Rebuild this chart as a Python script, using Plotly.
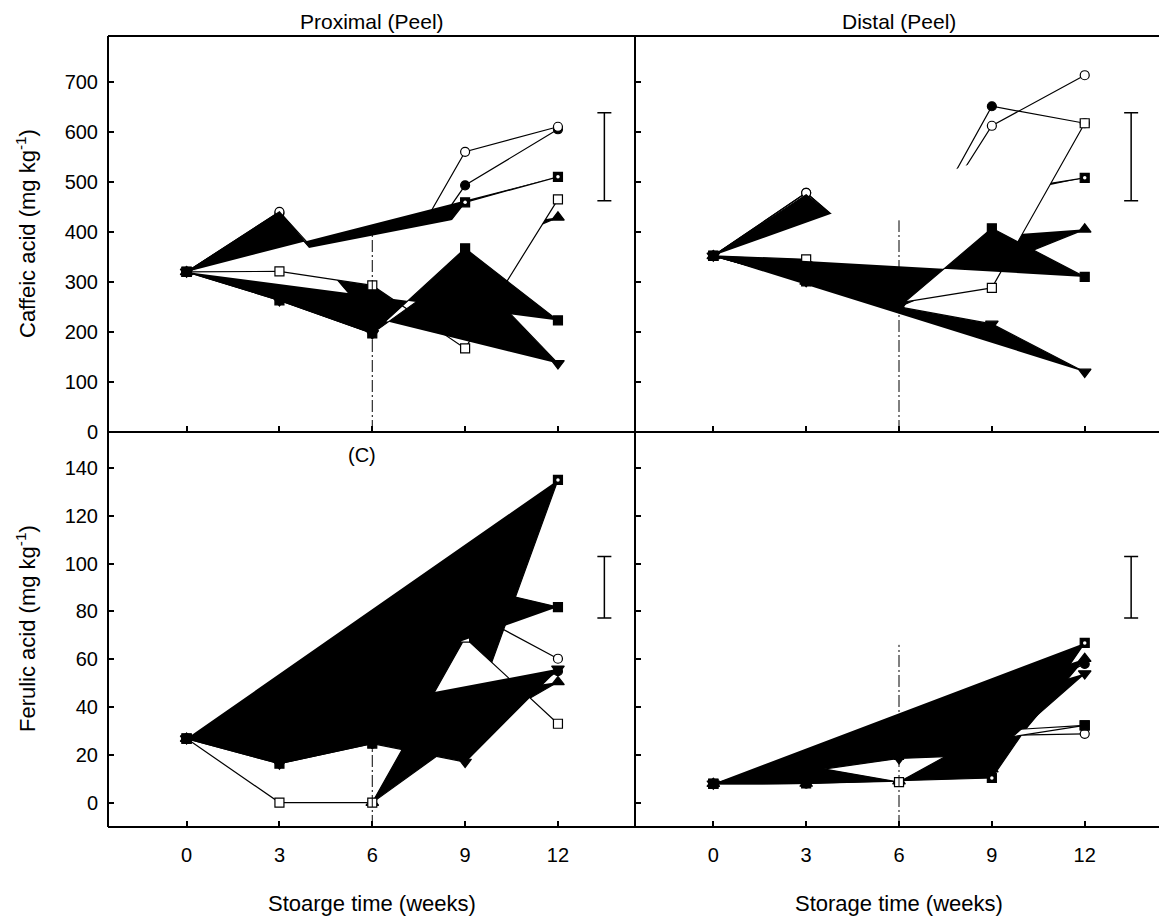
import plotly.graph_objects as go

# ---------------- data ----------------
WEEKS = [0, 3, 6, 9, 12]

# Caffeic acid, proximal peel (mg kg-1)
PC_FILLED_CIRCLE = [320, 437, 226, 493, 605]
PC_OPEN_CIRCLE = [320, 440, 236, 560, 610]
PC_UP_TRIANGLE = [320, 330, 300, 350, 429]
PC_DOT_SQUARE = [320, 440, 222, 459, 510]
PC_OPEN_SQUARE = [320, 321, 293, 167, 465]
PC_FILLED_SQUARE = [320, 263, 197, 367, 223]
PC_DOWN_TRIANGLE = [320, 263, 197, 330, 137]

# Caffeic acid, distal peel (mg kg-1)
DC_FILLED_CIRCLE = [352, 478, 316, 651, 617]
DC_OPEN_CIRCLE = [352, 478, 320, 612, 713]
DC_UP_TRIANGLE = [352, 301, 250, 330, 405]
DC_DOT_SQUARE = [352, 474, 326, 478, 508]
DC_OPEN_SQUARE = [352, 345, 258, 288, 617]
DC_FILLED_SQUARE = [352, 301, 250, 407, 310]
DC_DOWN_TRIANGLE = [352, 301, 250, 216, 120]

# Ferulic acid, proximal peel (mg kg-1)
PF_FILLED_CIRCLE = [26.8, 16.3, 24.7, 30, 55]
PF_OPEN_CIRCLE = [26.8, 16.3, 24.7, 81, 60.2]
PF_UP_TRIANGLE = [26.8, 16.3, 0, 28, 50.5]
PF_DOT_SQUARE = [26.8, 16.3, 24.7, 28, 135]
PF_OPEN_SQUARE = [26.8, 0, 0, 69, 33]
PF_FILLED_SQUARE = [26.8, 16.3, 24.7, 91, 81.8]
PF_DOWN_TRIANGLE = [26.8, 16.3, 24.7, 17, 56]

# Ferulic acid, distal peel (mg kg-1)
DF_FILLED_CIRCLE = [7.9, 8, 17.7, 40, 58]
DF_OPEN_CIRCLE = [7.9, 8, 17.7, 28, 28.8]
DF_UP_TRIANGLE = [7.9, 8, 9, 14, 60.2]
DF_DOT_SQUARE = [7.9, 8, 9.2, 10.3, 66.8]
DF_OPEN_SQUARE = [7.9, 15.4, 8.6, 30, 32.3]
DF_FILLED_SQUARE = [7.9, 14, 20, 26.2, 32.3]
DF_DOWN_TRIANGLE = [7.9, 13, 18.5, 20, 54]

# weeks where the dotted-square symbol is drawn / where its white dot shows
PC_DOT_MARKED = [0, 6, 9, 12]
DC_DOT_MARKED = [0, 6, 9, 12]
PF_DOT_MARKED = [0, 3, 6, 9, 12]
DF_DOT_MARKED = [0, 3, 6, 9, 12]
PC_DOT_WHITE = [9, 12]
DC_DOT_WHITE = [12]
PF_DOT_WHITE = [12]
DF_DOT_WHITE = [9, 12]

# LSD bars (centre, half length) and extent of the week-6 reference line
CAF_LSD = [550, 88]
FER_LSD = [90.1, 12.9]
LSD_WEEK = 13.5
BREAK_WEEK = 6
PC_BREAK = [0, 400]
DC_BREAK = [0, 423]
PF_BREAK = [-10.2, 62]
DF_BREAK = [-10.2, 66]

X_TICKS = [0, 3, 6, 9, 12]
CAF_TICKS = [0, 100, 200, 300, 400, 500, 600, 700]
FER_TICKS = [0, 20, 40, 60, 80, 100, 120, 140]

# ---------------- styles ----------------
FONT = "Liberation Sans, Arial, Helvetica, sans-serif"
ORDER = ["filled_circle", "open_circle", "up_triangle", "dot_square",
         "open_square", "filled_square", "down_triangle"]
STYLE = {
    "filled_circle": dict(symbol="circle", mfill="black", area=None, size=9),
    "open_circle": dict(symbol="circle", mfill="white", area=None, size=9),
    "up_triangle": dict(symbol="triangle-up", mfill="black", area="black", size=11),
    "dot_square": dict(symbol="square", mfill="black", area="black", size=9),
    "open_square": dict(symbol="square", mfill="white", area="white", size=9),
    "filled_square": dict(symbol="square", mfill="black", area="black", size=9),
    "down_triangle": dict(symbol="triangle-down", mfill="black", area="black", size=11),
}

PANELS = [
    dict(xa="x", ya="y", lsd=CAF_LSD, brk=PC_BREAK, marked=PC_DOT_MARKED, white=PC_DOT_WHITE,
         data=dict(filled_circle=PC_FILLED_CIRCLE, open_circle=PC_OPEN_CIRCLE,
                   up_triangle=PC_UP_TRIANGLE, dot_square=PC_DOT_SQUARE,
                   open_square=PC_OPEN_SQUARE, filled_square=PC_FILLED_SQUARE,
                   down_triangle=PC_DOWN_TRIANGLE)),
    dict(xa="x2", ya="y2", lsd=CAF_LSD, brk=DC_BREAK, marked=DC_DOT_MARKED, white=DC_DOT_WHITE,
         data=dict(filled_circle=DC_FILLED_CIRCLE, open_circle=DC_OPEN_CIRCLE,
                   up_triangle=DC_UP_TRIANGLE, dot_square=DC_DOT_SQUARE,
                   open_square=DC_OPEN_SQUARE, filled_square=DC_FILLED_SQUARE,
                   down_triangle=DC_DOWN_TRIANGLE)),
    dict(xa="x3", ya="y3", lsd=FER_LSD, brk=PF_BREAK, marked=PF_DOT_MARKED, white=PF_DOT_WHITE,
         data=dict(filled_circle=PF_FILLED_CIRCLE, open_circle=PF_OPEN_CIRCLE,
                   up_triangle=PF_UP_TRIANGLE, dot_square=PF_DOT_SQUARE,
                   open_square=PF_OPEN_SQUARE, filled_square=PF_FILLED_SQUARE,
                   down_triangle=PF_DOWN_TRIANGLE)),
    dict(xa="x4", ya="y4", lsd=FER_LSD, brk=DF_BREAK, marked=DF_DOT_MARKED, white=DF_DOT_WHITE,
         data=dict(filled_circle=DF_FILLED_CIRCLE, open_circle=DF_OPEN_CIRCLE,
                   up_triangle=DF_UP_TRIANGLE, dot_square=DF_DOT_SQUARE,
                   open_square=DF_OPEN_SQUARE, filled_square=DF_FILLED_SQUARE,
                   down_triangle=DF_DOWN_TRIANGLE)),
]

fig = go.Figure()

for p in PANELS:
    ax = dict(xaxis=p["xa"], yaxis=p["ya"])
    for name in ORDER:
        st = STYLE[name]
        vals = p["data"][name]
        if st["area"]:
            fig.add_trace(go.Scatter(x=WEEKS, y=vals, mode="lines", fill="toself",
                                     fillcolor=st["area"], hoverinfo="skip",
                                     line=dict(color="black", width=1.2), **ax))
        else:
            fig.add_trace(go.Scatter(x=WEEKS, y=vals, mode="lines", hoverinfo="skip",
                                     line=dict(color="black", width=1.2), **ax))
        if name == "dot_square":
            wk = [w for w in WEEKS if w in p["marked"]]
        else:
            wk = list(WEEKS)
        yy = [vals[WEEKS.index(w)] for w in wk]
        fig.add_trace(go.Scatter(x=wk, y=yy, mode="markers", hoverinfo="skip",
                                 marker=dict(symbol=st["symbol"], size=st["size"], color=st["mfill"],
                                             line=dict(color="black", width=1.2)), **ax))
    # week-6 reference line
    fig.add_trace(go.Scatter(x=[BREAK_WEEK, BREAK_WEEK], y=p["brk"], mode="lines", hoverinfo="skip",
                             line=dict(color="black", width=1, dash="12px,3px,2px,3px"), **ax))
    # LSD bar
    fig.add_trace(go.Scatter(x=[LSD_WEEK], y=[p["lsd"][0]], mode="markers", hoverinfo="skip",
                             marker=dict(size=1, color="rgba(0,0,0,0)"),
                             error_y=dict(type="data", array=[p["lsd"][1]], visible=True,
                                          color="black", thickness=1.5, width=7), **ax))
    # white centre dot of the dotted square symbol
    dsq = p["data"]["dot_square"]
    fig.add_trace(go.Scatter(x=p["white"], y=[dsq[WEEKS.index(w)] for w in p["white"]],
                             mode="markers", hoverinfo="skip",
                             marker=dict(symbol="circle", size=3.5, color="white",
                                         line=dict(width=0)), **ax))

# ---------------- layout ----------------
XL = [0, 0.50143]
XR = [0.50143, 1]
YT = [0.49937, 1]
YB = [0, 0.49937]

common_x = dict(tickvals=X_TICKS, ticks="inside", ticklen=6, tickwidth=1.5, tickcolor="black",
                showgrid=False, zeroline=False, showline=False,
                tickfont=dict(family=FONT, size=20, color="black"), ticklabelstandoff=14)
common_y = dict(ticks="inside", ticklen=6, tickwidth=1.5, tickcolor="black",
                showgrid=False, zeroline=False, showline=False,
                tickfont=dict(family=FONT, size=20, color="black"), ticklabelstandoff=9)

fig.update_layout(
    width=1159, height=918,
    margin=dict(l=108, r=0, t=36, b=91, pad=0),
    paper_bgcolor="white", plot_bgcolor="white",
    showlegend=False,
    xaxis=dict(domain=XL, anchor="y", range=[-2.54, 14.49], showticklabels=False, **common_x),
    xaxis2=dict(domain=XR, anchor="y2", range=[-2.53, 14.4], showticklabels=False, **common_x),
    xaxis3=dict(domain=XL, anchor="y3", range=[-2.54, 14.49], showticklabels=True, **common_x),
    xaxis4=dict(domain=XR, anchor="y4", range=[-2.53, 14.4], showticklabels=True, **common_x),
    yaxis=dict(domain=YT, anchor="x", range=[0, 791.4], tickvals=CAF_TICKS, showticklabels=True, **common_y),
    yaxis2=dict(domain=YT, anchor="x2", range=[0, 791.4], tickvals=CAF_TICKS, showticklabels=False, **common_y),
    yaxis3=dict(domain=YB, anchor="x3", range=[-10.2, 155.06], tickvals=FER_TICKS, showticklabels=True, **common_y),
    yaxis4=dict(domain=YB, anchor="x4", range=[-10.2, 155.06], tickvals=FER_TICKS, showticklabels=False, **common_y),
)

border = dict(color="black", width=2)
fig.update_layout(shapes=[
    dict(type="line", xref="paper", yref="paper", x0=0, x1=0, y0=0, y1=1, line=border),
    dict(type="line", xref="paper", yref="paper", x0=0, x1=1, y0=1, y1=1, line=border),
    dict(type="line", xref="paper", yref="paper", x0=0, x1=1, y0=0, y1=0, line=border),
    dict(type="line", xref="paper", yref="paper", x0=XL[1], x1=XL[1], y0=0, y1=1, line=border),
    dict(type="line", xref="paper", yref="paper", x0=0, x1=1, y0=YT[0], y1=YT[0], line=border),
])

def ann(text, x, y, size, angle=0):
    return dict(text=text, x=x, y=y, xref="paper", yref="paper", showarrow=False,
                xanchor="center", yanchor="middle", textangle=angle,
                font=dict(family=FONT, size=size, color="black"))

fig.update_layout(annotations=[
    ann("Proximal (Peel)", 0.2512, 1.0177, 21),
    ann("Distal (Peel)", 0.7526, 1.0177, 21),
    ann("Stoarge time (weeks)", 0.2512, -0.0961, 22),
    ann("Storage time (weeks)", 0.7526, -0.0961, 22),
    ann("Caffeic acid (mg kg<sup>-1</sup>)", -0.078, 0.7497, 22, -90),
    ann("Ferulic acid (mg kg<sup>-1</sup>)", -0.078, 0.2503, 22, -90),
    ann("(C)", 0.2413, 0.4703, 20),
])

fig.write_html("out.html")
